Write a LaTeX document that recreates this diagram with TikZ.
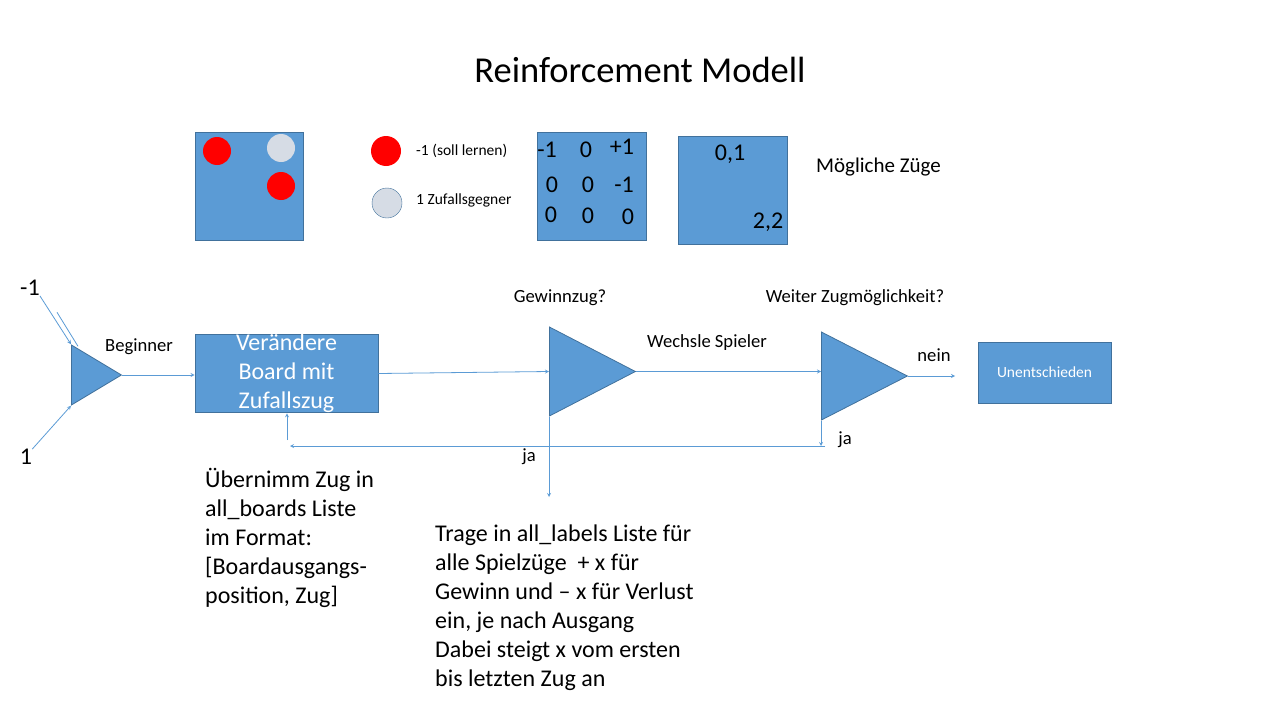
\documentclass[tikz,border=0pt]{standalone}
\usepackage{fontspec}
\setmainfont{Carlito}
\usetikzlibrary{shapes.geometric,calc}
\definecolor{boxblue}{RGB}{91,155,213}
\definecolor{boxedge}{RGB}{65,113,156}
\definecolor{stonegray}{RGB}{214,220,229}
\newcommand{\fs}[2]{\fontsize{#1}{#2}\selectfont}
\tikzset{
  board/.style={draw=boxedge,fill=boxblue,line width=0.8pt,minimum width=108pt,minimum height=108pt,inner sep=0pt},
  tri/.style={isosceles triangle,isosceles triangle stretches,draw=boxedge,fill=boxblue,line width=0.8pt,inner sep=0pt},
  stone/.style={circle,minimum size=28pt,inner sep=0pt},
  flow/.style={draw=boxblue,line width=0.8pt},
  lbl/.style={inner sep=0pt,font=\fs{18.6}{22}},
}
\begin{document}
\begin{tikzpicture}[x=1pt,y=-1pt,>=stealth]
\useasboundingbox (0,0) rectangle (1280,720);
\node (title) at (640,70) {\fs{36.5}{44}Reinforcement Modell};

% boards
\node[board] (brd1) at (249,186) {};
\node[stone,fill=red] (s1) at (217,151) {};
\node[stone,fill=stonegray] (s2) at (281,148) {};
\node[stone,fill=red] (s3) at (281,186) {};

\node[stone,fill=red,minimum height=30pt] (lg1) at (386,151) {};
\node[stone,fill=stonegray,draw=boxedge,minimum height=30pt] (lg2) at (387,203) {};
\node[anchor=west,inner sep=0pt,font=\fs{15.5}{18}] (lt1) at (416,151) {-1 (soll lernen)};
\node[anchor=west,inner sep=0pt,font=\fs{15.5}{18}] (lt2) at (416,200) {1 Zufallsgegner};

\node[board,minimum width=109pt] (brd2) at (591.5,186) {};
\foreach \x/\y/\v [count=\i] in {547/150/-1,586/150/0,622/147/+1,552/185/0,588/185/0,624/185/-1,551/215/0,588/216/0,628/217/0}
{
    \node[inner sep=0pt,font=\fs{24}{29}] (f\i) at (\x,\y) {\v};
}

\node[board,minimum width=109pt] (brd3) at (732.5,190) {};
\node[inner sep=0pt,font=\fs{24}{29}] (mv1) at (730,154) {0,1};
\node[inner sep=0pt,font=\fs{24}{29}] (mv2) at (768,222) {2,2};
\node[anchor=west,inner sep=0pt,font=\fs{21}{25}] (moves) at (816,167) {Mögliche Züge};

% flow
\node[inner sep=0pt,font=\fs{24}{29}] (m1) at (30,288) {-1};
\node[inner sep=0pt,font=\fs{24}{29}] (p1) at (26,457) {1};
\node[tri,minimum height=50pt,minimum width=60pt,anchor=lower side] (tri1) at (71,375) {};
\node[lbl] (beg) at (139,347) {Beginner};

\node[draw=boxedge,fill=boxblue,line width=0.8pt,minimum width=183pt,minimum height=75pt,inner sep=0pt,
      text=white,align=center,font=\fs{24}{29}] (rand) at (286.5,373.5) {Verändere\\Board mit\\Zufallszug};

\node[tri,minimum height=86pt,minimum width=89pt,anchor=lower side] (tri2) at (549,371.5) {};
\node[lbl] (win) at (560,298) {Gewinnzug?};
\node[lbl] (swap) at (707,343) {Wechsle Spieler};

\node[tri,minimum height=86pt,minimum width=88pt,anchor=lower side] (tri3) at (821,376) {};
\node[lbl] (more) at (855,298) {Weiter Zugmöglichkeit?};
\node[lbl] (no) at (934,355) {nein};
\node[lbl] (yes1) at (845,440) {ja};
\node[lbl] (yes2) at (529,457) {ja};

\node[draw=boxedge,fill=boxblue,line width=0.8pt,minimum width=133pt,minimum height=61pt,inner sep=0pt,
      text=white,font=\fs{15.5}{18}] (draw) at (1044.5,372.5) {Unentschieden};

\coordinate (noend) at (955,376);
\coordinate (yesdown) at (821,446);
\coordinate (yesleft) at (290,446);
\coordinate (upstart) at (287,440);
\coordinate (labdown) at (549,497);

\draw[flow,->] (m1.south east) -- (tri1.left corner);
\draw[flow] ($(tri1.left corner)+(7,2)$) -- ++(-21,-34);
\draw[flow,->] (p1.north east) -- (tri1.right corner);
\draw[flow,->] (tri1.apex) -- (rand.west |- tri1.apex);
\draw[flow,->] (rand.east) -- (tri2.lower side);
\draw[flow,->] (tri2.apex) -- (tri2.apex -| tri3.lower side);
\draw[flow,->] (tri3.apex) -- (noend);
\draw[flow,->] (tri3.right corner) -- (yesdown);
\draw[flow,->] ($(yesdown)+(4,0)$) -- (yesleft);
\draw[flow,->] (upstart) -- (upstart |- rand.south);
\draw[flow,->] (tri2.right corner) -- (labdown);

\node[anchor=north west,inner sep=0pt,align=left,font=\fs{24}{29}] (boards) at (205,468)
  {Übernimm Zug in\\all\_boards Liste\\im Format:\\{}[Boardausgangs-\\position, Zug]};
\node[anchor=north west,inner sep=0pt,align=left,font=\fs{24}{29}] (labels) at (435,525)
  {Trage in all\_labels Liste für\\alle Spielzüge~~+ x für\\Gewinn und – x für Verlust\\ein, je nach Ausgang\\Dabei steigt x vom ersten\\bis letzten Zug an};
\end{tikzpicture}
\end{document}
